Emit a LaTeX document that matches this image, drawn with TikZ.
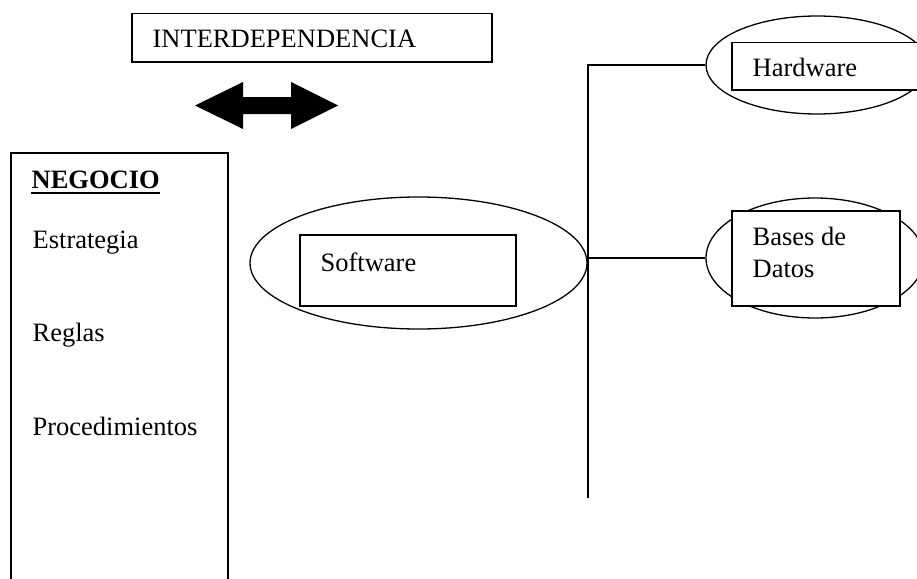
\documentclass[tikz,border=0pt]{standalone}
\usepackage{fontspec}
\setmainfont{Liberation Serif}
\usetikzlibrary{shapes.geometric}
\newcommand\lblsize{\fontsize{26.5}{32}\selectfont}
\begin{document}
\begin{tikzpicture}[x=1pt, y=-1pt,
  line width=1.3pt,
  lbl/.style={anchor=base west, inner sep=0pt, font=\lblsize},
  frame/.style={draw, fill=white, line width=1.5pt, anchor=north west, inner sep=0pt},
  oval/.style={draw, ellipse, inner sep=0pt, line width=1.3pt},
]
\useasboundingbox (0,0) rectangle (917,578);
\clip (0,0) rectangle (917,578);

% title box and double arrow
\node[frame, minimum width=360pt, minimum height=48pt] (interbox) at (131,13) {};
\node[lbl] (inter) at (152,48) {INTERDEPENDENCIA};
\fill (195,105.5) -- (243,82) -- (243,97) -- (291,97) -- (291,82) -- (338,105.5)
  -- (291,129) -- (291,114) -- (243,114) -- (243,129) -- cycle;

% business column
\node[frame, minimum width=217pt, minimum height=470pt] (negocio) at (10,152) {};
\node[lbl, font=\lblsize\bfseries] (negtitle) at (31,188) {NEGOCIO};
\draw[line width=2pt] ([yshift=-4.5pt]negtitle.base west) -- ([yshift=-4.5pt]negtitle.base east);
\node[lbl] (estrategia) at (32,248) {Estrategia};
\node[lbl] (reglas) at (32,341) {Reglas};
\node[lbl] (proc) at (32,435) {Procedimientos};

% software
\node[oval, minimum width=337pt, minimum height=132pt] (swoval) at (418.5,263) {};
\node[frame, minimum width=216pt, minimum height=71pt] (swbox) at (299,234) {};
\node[lbl] (sw) at (320,271) {Software};

% hardware
\node[oval, minimum width=222pt, minimum height=98pt] (hwoval) at (817,65) {};
\node[frame, minimum width=200pt, minimum height=47pt] (hwbox) at (731,42) {};
\node[lbl] (hw) at (752,76) {Hardware};

% databases
\node[oval, minimum width=218pt, minimum height=120pt] (dboval) at (815,258) {};
\node[frame, minimum width=168pt, minimum height=95pt] (dbbox) at (731,210) {};
\node[lbl] (db1) at (752,245) {Bases de};
\node[lbl] (db2) at (752,277) {Datos};

% connecting bus
\coordinate (bustop) at (588,65);
\coordinate (busmid) at (588,258);
\coordinate (busbot) at (588,498);
\draw (busbot) -- (bustop) -- (hwoval.west);
\draw (busmid) -- (dboval.west);
\end{tikzpicture}
\end{document}
